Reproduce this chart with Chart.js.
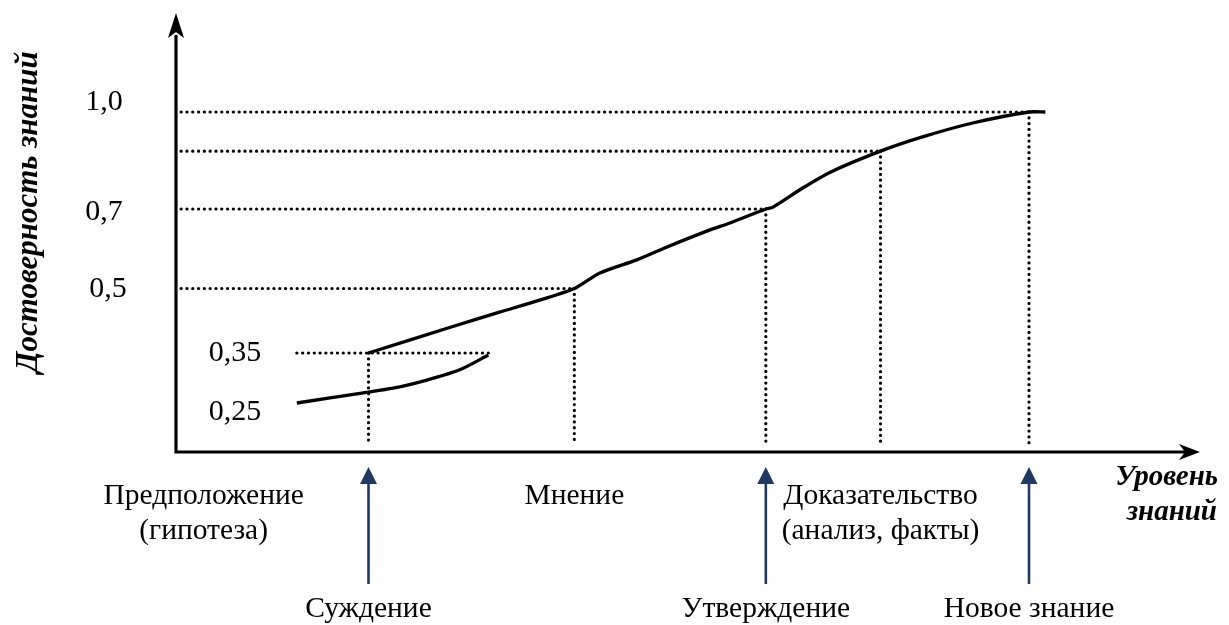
<!DOCTYPE html>
<html>
<head>
<meta charset="utf-8">
<script src="https://cdn.jsdelivr.net/npm/chart.js@4.4.1/dist/chart.umd.min.js"></script>
<style>
  html, body { margin: 0; padding: 0; background: #ffffff; }
  #wrap { width: 1229px; height: 625px; position: relative; }
</style>
</head>
<body>
<div id="wrap"><canvas id="c"></canvas></div>
<script>
// ---------- DATA ----------
// knowledge level (x, arbitrary 0-100 units) and reliability (y)
const lowerX = [11.8, 18.3, 21.2, 24.5, 27.7, 30.5];
const lowerY = [0.252, 0.272, 0.281, 0.297, 0.317, 0.346];

const upperX = [18.8, 26.8, 31.6, 35.5, 38.9, 41.4, 45.0, 47.9, 51.9, 54.1, 57.6, 58.3, 61.2, 63.9, 68.8, 72.9, 77.8, 83.3, 84.9];
const upperY = [0.35, 0.410, 0.445, 0.473, 0.5, 0.539, 0.572, 0.604, 0.645, 0.665, 0.7, 0.706, 0.765, 0.814, 0.879, 0.923, 0.966, 1.0, 1.0];

// milestones on the upper curve (guide lines)
const milestoneX = [38.9, 57.6, 68.8, 83.3];
const milestoneY = [0.5, 0.7, 0.879, 1.0];
// Суждение point: guide from 0.35 line
const judgementX = 18.8;
const judgementY = 0.35;
const judgementLineX = [11.8, 30.5];

// y axis tick labels
const yTickValues = [0.25, 0.35, 0.5, 0.7, 1.0];
const yTickText = ['0,25', '0,35', '0,5', '0,7', '1,0'];

// non-uniform y axis of the original drawing
const yBreakValues = [0, 0.25, 0.35, 0.5, 0.7, 1.0, 1.3];
const yBreakFrac   = [0, 0.1093, 0.2255, 0.3724, 0.5535, 0.7745, 1];

// level labels along x
const levelNames = [['Предположение', '(гипотеза)'], ['Суждение'], ['Мнение'], ['Утверждение'], ['Доказательство', '(анализ, факты)'], ['Новое знание']];
const levelX = [2.7, 18.8, 38.9, 57.6, 68.8, 83.3];
const levelArrow = [false, true, false, true, false, true];

const xTitle = ['Уровень', 'знаний'];
const yTitle = 'Достоверность знаний';

// ---------- piecewise y scale ----------
class PiecewiseScale extends Chart.LinearScale {
  getPixelForValue(value) {
    const v = +value;
    let i = 0;
    while (i < yBreakValues.length - 2 && v > yBreakValues[i + 1]) i++;
    const v0 = yBreakValues[i], v1 = yBreakValues[i + 1];
    const f = yBreakFrac[i] + (v - v0) / (v1 - v0) * (yBreakFrac[i + 1] - yBreakFrac[i]);
    return this.bottom - f * (this.bottom - this.top);
  }
  getValueForPixel(pixel) {
    const f = (this.bottom - pixel) / (this.bottom - this.top);
    let i = 0;
    while (i < yBreakFrac.length - 2 && f > yBreakFrac[i + 1]) i++;
    return yBreakValues[i] + (f - yBreakFrac[i]) / (yBreakFrac[i + 1] - yBreakFrac[i]) * (yBreakValues[i + 1] - yBreakValues[i]);
  }
}
PiecewiseScale.id = 'piecewise';
PiecewiseScale.defaults = {};
Chart.register(PiecewiseScale);

// ---------- datasets ----------
const pts = (xs, ys) => xs.map((x, i) => ({ x: x, y: ys[i] }));
const guideBottom = 0.04;
const guideLeft = 0.5;

const curveStyle = { borderColor: '#000', borderWidth: 3.3, pointRadius: 0, tension: 0.25, fill: false };
const dotStyle = { borderColor: '#000', borderWidth: 3.2, borderDash: [0.1, 5.7], borderCapStyle: 'round', pointRadius: 0, tension: 0, fill: false };

const datasets = [];
milestoneX.forEach((mx, i) => {
  datasets.push(Object.assign({ data: [{ x: guideLeft, y: milestoneY[i] }, { x: mx, y: milestoneY[i] }] }, dotStyle));
  datasets.push(Object.assign({ data: [{ x: mx, y: milestoneY[i] }, { x: mx, y: guideBottom }] }, dotStyle));
});
datasets.push(Object.assign({ data: [{ x: judgementLineX[0], y: judgementY }, { x: judgementLineX[1], y: judgementY }] }, dotStyle));
datasets.push(Object.assign({ data: [{ x: judgementX, y: judgementY }, { x: judgementX, y: guideBottom }] }, dotStyle));
datasets.push(Object.assign({ data: pts(lowerX, lowerY) }, curveStyle));
datasets.push(Object.assign({ data: pts(upperX, upperY) }, curveStyle));

// ---------- decorations ----------
const SERIF = '"Liberation Serif", "Times New Roman", serif';
const NAVY = '#1f3864';

function notchedArrow(ctx, tipX, tipY, dirX, dirY, len, half, notch) {
  const px = -dirY, py = dirX;
  const bx = tipX - dirX * len, by = tipY - dirY * len;
  ctx.beginPath();
  ctx.moveTo(tipX, tipY);
  ctx.lineTo(bx + px * half, by + py * half);
  ctx.lineTo(tipX - dirX * (len - notch), tipY - dirY * (len - notch));
  ctx.lineTo(bx - px * half, by - py * half);
  ctx.closePath();
  ctx.fill();
}

const deco = {
  id: 'deco',
  beforeDatasetsDraw(chart) {
    const ctx = chart.ctx, a = chart.chartArea;
    ctx.save();
    ctx.strokeStyle = '#000';
    ctx.fillStyle = '#000';
    ctx.lineWidth = 3.2;
    ctx.beginPath();
    ctx.moveTo(a.left, a.bottom + 1.6);
    ctx.lineTo(a.left, a.top + 22);
    ctx.moveTo(a.left - 1.6, a.bottom);
    ctx.lineTo(a.right - 14, a.bottom);
    ctx.stroke();
    notchedArrow(ctx, a.left, a.top, 0, -1, 25, 8, 6);
    notchedArrow(ctx, a.right, a.bottom, 1, 0, 21, 8, 6);
    ctx.restore();
  },
  afterDraw(chart) {
    const ctx = chart.ctx;
    const xs = chart.scales.x, ys = chart.scales.y;
    ctx.save();
    ctx.fillStyle = '#000';
    ctx.textBaseline = 'middle';
    ctx.textAlign = 'center';
    ctx.font = '30px ' + SERIF;
    // y tick labels
    const tickCx = [235, 235, 108, 104, 104];
    const tickDy = [8, 0, 1, 3, -10];
    yTickValues.forEach((v, i) => {
      ctx.fillText(yTickText[i], tickCx[i], ys.getPixelForValue(v) + tickDy[i]);
    });
    // level labels and arrows
    ctx.font = '29.5px ' + SERIF;
    levelNames.forEach((lines, i) => {
      const cx = xs.getPixelForValue(levelX[i]);
      if (levelArrow[i]) {
        ctx.fillText(lines[0], cx, 609);
        ctx.strokeStyle = NAVY;
        ctx.fillStyle = NAVY;
        ctx.lineWidth = 2.6;
        ctx.beginPath();
        ctx.moveTo(cx, 480);
        ctx.lineTo(cx, 584);
        ctx.stroke();
        ctx.beginPath();
        ctx.moveTo(cx, 467);
        ctx.lineTo(cx - 8.5, 484);
        ctx.lineTo(cx + 8.5, 484);
        ctx.closePath();
        ctx.fill();
        ctx.fillStyle = '#000';
      } else {
        lines.forEach((t, j) => ctx.fillText(t, cx, 496 + j * 35));
      }
    });
    // axis titles
    ctx.font = 'italic bold 29px ' + SERIF;
    ctx.textAlign = 'right';
    ctx.fillText(xTitle[0], 1218, 478);
    ctx.fillText(xTitle[1], 1217, 513);
    ctx.font = 'italic bold 31px ' + SERIF;
    ctx.translate(29, 212);
    ctx.rotate(-Math.PI / 2);
    ctx.textAlign = 'center';
    ctx.fillText(yTitle, 0, 0);
    ctx.restore();
  }
};

new Chart(document.getElementById('c'), {
  type: 'line',
  data: { datasets: datasets },
  options: {
    responsive: true,
    maintainAspectRatio: false,
    animation: false,
    events: [],
    layout: { padding: { left: 176, right: 29, top: 13, bottom: 173 } },
    plugins: { legend: { display: false }, tooltip: { enabled: false } },
    scales: {
      x: { type: 'linear', min: 0, max: 100, display: false },
      y: { type: 'piecewise', min: 0, max: 1.3, display: false }
    }
  },
  plugins: [deco]
});
</script>
</body>
</html>
